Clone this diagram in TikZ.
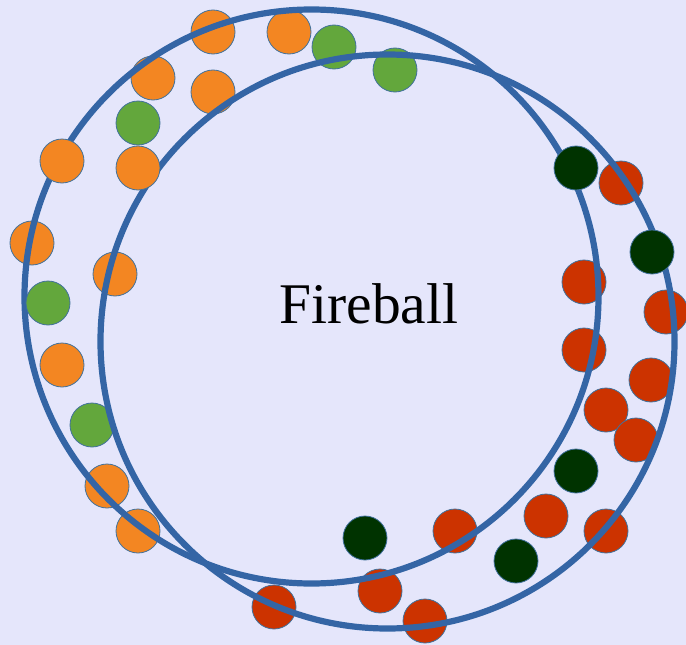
\documentclass[tikz,border=0pt]{standalone}
\usepackage{fontspec}
\setmainfont{Liberation Serif}
\usetikzlibrary{positioning}

\definecolor{bgcol}{RGB}{229,230,251}
\definecolor{ringcol}{RGB}{52,101,165}
\definecolor{edgecol}{RGB}{65,113,156}
\definecolor{orangeball}{RGB}{243,134,34}
\definecolor{greenball}{RGB}{99,167,60}
\definecolor{darkball}{RGB}{0,51,0}
\definecolor{redball}{RGB}{204,51,0}

\begin{document}
\begin{tikzpicture}[
        x=1pt, y=-1pt,
        % styles
        ball/.style={
            draw=edgecol, circle, line width=0.8pt,
            minimum size=44pt, inner sep=0pt
        },
        ring/.style={
            draw=ringcol, circle, line width=6.2pt,
            minimum size=574pt, inner sep=0pt
        },
        label/.style={font=\fontsize{57.5}{60}\selectfont, anchor=base}
    ]

    % background
    \fill[bgcol] (0,0) rectangle (686,645);
    \useasboundingbox (0,0) rectangle (686,645);

    % 1. balls below the rings
    \foreach \x/\y [count=\i] in {213/32, 289/32, 153/78, 213/92, 32/243,
                                   115/274, 62/365, 107/486, 138/531}
        \node (o\i) [ball, fill=orangeball] at (\x,\y) {};
    \foreach \x/\y [count=\i] in {334/47, 395/70, 138/123, 92/425}
        \node (g\i) [ball, fill=greenball] at (\x,\y) {};
    \foreach \x/\y [count=\i] in {274/607, 621/183, 584/282, 666/312, 584/350,
                                   651/380, 606/410, 636/440, 546/516, 606/531,
                                   455/531, 380/591, 425/621}
        \node (r\i) [ball, fill=redball] at (\x,\y) {};
    \foreach \x/\y [count=\i] in {576/471, 516/561, 365/538}
        \node (d\i) [ball, fill=darkball] at (\x,\y) {};

    % 2. the two shells
    \node (ringA) [ring] at (311.5,296.5) {};
    \node (ringB) [ring] at (387.5,341.5) {};

    % 3. balls on top of the rings
    \node (ot1) [ball, fill=orangeball] at (62,161) {};
    \node (ot2) [ball, fill=orangeball] at (138,168) {};
    \node (gt1) [ball, fill=greenball] at (48,303) {};
    \node (dt1) [ball, fill=darkball] at (576,168) {};
    \node (dt2) [ball, fill=darkball] at (652,252) {};

    % label
    \node (fire) [label] at (369,323) {Fireball};

\end{tikzpicture}
\end{document}
